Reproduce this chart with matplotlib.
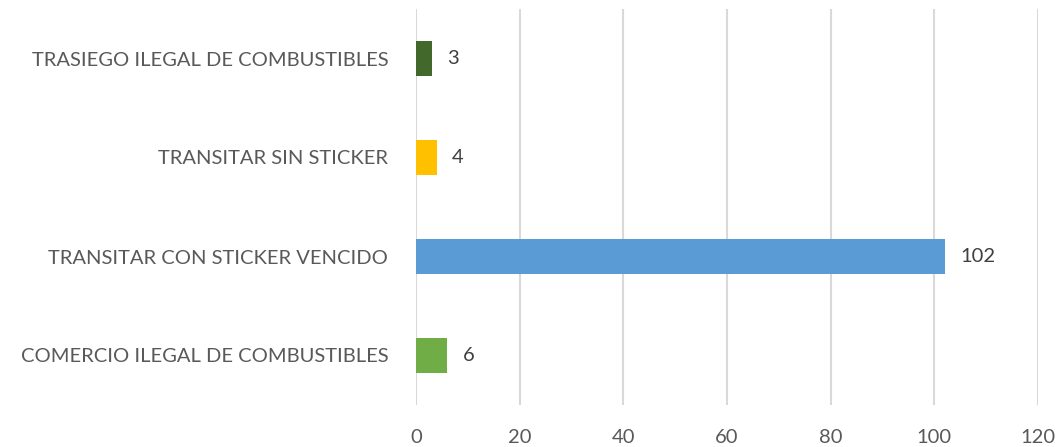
import matplotlib
matplotlib.use("Agg")
import matplotlib.pyplot as plt

categories = ["COMERCIO ILEGAL DE COMBUSTIBLES", "TRANSITAR CON STICKER VENCIDO",
              "TRANSITAR SIN STICKER", "TRASIEGO ILEGAL DE COMBUSTIBLES"]
values = [6, 102, 4, 3]
colors = ["#70AD47", "#5B9BD5", "#FFC000", "#43682B"]
xticks = [0, 20, 40, 60, 80, 100, 120]

plt.rcParams['font.family'] = ['Lato', 'DejaVu Sans']

fig = plt.figure(figsize=(10.61, 4.47), dpi=100)
ax = fig.add_axes([416/1061, 42/447, (1038-416)/1061, (405-9)/447])

ypos = list(range(len(categories)))
bars = ax.barh(ypos, values, height=0.36, color=colors, zorder=3)
for y, v in zip(ypos, values):
    ax.annotate(str(v), xy=(v, y), xytext=(11, 0), textcoords="offset points",
                va="center", ha="left", fontsize=14.5, color="#404040")

ax.set_xlim(0, 120)
ax.set_ylim(-0.5, len(categories) - 0.5)
ax.set_xticks(xticks)
ax.set_xticklabels([str(t) for t in xticks])
ax.set_yticks(ypos)
ax.set_yticklabels(categories)
ax.tick_params(axis="x", length=0, pad=17, labelsize=14.5, labelcolor="#595959")
ax.tick_params(axis="y", length=0, pad=20, labelsize=14.5, labelcolor="#595959")
ax.grid(axis="x", color="#D9D9D9", linewidth=1.5, zorder=0)
for s in ax.spines.values():
    s.set_visible(False)

fig.savefig("out.png", dpi=100)
